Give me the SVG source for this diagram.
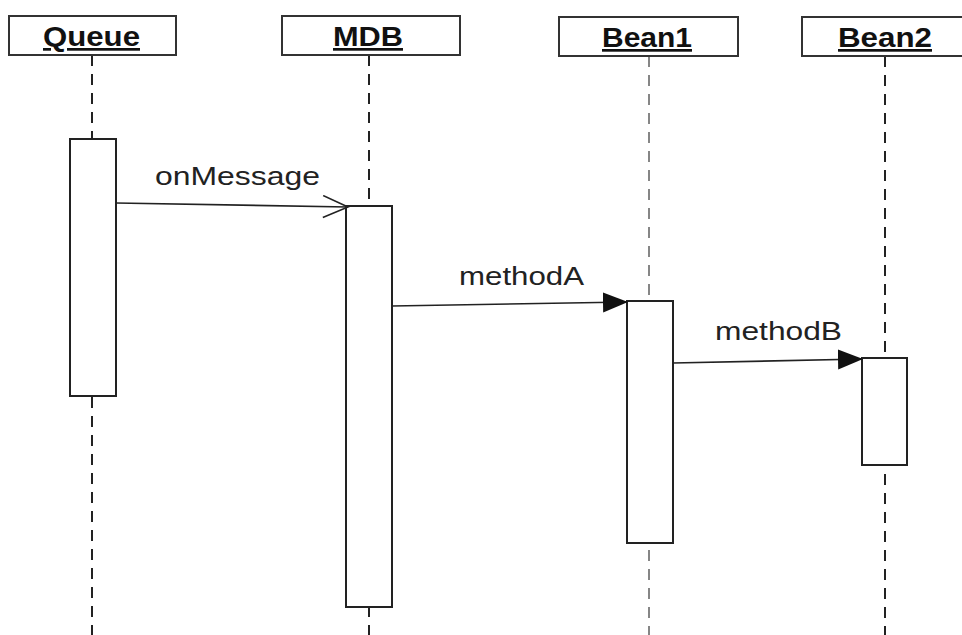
<svg xmlns="http://www.w3.org/2000/svg" width="962" height="635" viewBox="0 0 962 635">
<defs>
<style>
.hdr{fill:#fff;stroke:#333;stroke-width:2}
.hl{font-family:"Liberation Sans",Arial,sans-serif;font-weight:bold;font-size:27px;fill:#111;text-decoration:underline;text-anchor:middle}
.life{stroke:#222;stroke-width:2;stroke-dasharray:11 8;fill:none}
.bar{fill:#fff;stroke:#222;stroke-width:2}
.msg{stroke:#222;stroke-width:1.6;fill:none}
.ml{font-family:"Liberation Sans",Arial,sans-serif;font-size:25px;fill:#222}
</style>
<marker id="open" viewBox="0 0 28 24" refX="26" refY="12" markerWidth="28" markerHeight="24" markerUnits="userSpaceOnUse" orient="auto">
<path d="M1,1 L26,12 L1,23" fill="none" stroke="#222" stroke-width="1.6"/>
</marker>
<marker id="fill" viewBox="0 0 26 22" refX="25" refY="11" markerWidth="26" markerHeight="22" markerUnits="userSpaceOnUse" orient="auto">
<path d="M0,1 L25,11 L0,21 Z" fill="#111"/>
</marker>
</defs>
<rect width="962" height="635" fill="#fff"/>
<g id="queue">
<line class="life" x1="92" y1="55" x2="92" y2="635"/>
<rect class="hdr" x="9" y="16" width="167" height="39"/>
<text class="hl" x="91.5" y="46" textLength="97" lengthAdjust="spacingAndGlyphs">Queue</text>
<rect class="bar" x="70" y="139" width="46" height="257"/>
</g>
<g id="mdb">
<line class="life" x1="369" y1="55" x2="369" y2="635"/>
<rect class="hdr" x="282" y="16" width="178" height="39"/>
<text class="hl" x="368" y="46" textLength="70" lengthAdjust="spacingAndGlyphs">MDB</text>
<rect class="bar" x="346" y="206" width="46" height="401"/>
</g>
<g id="bean1">
<line class="life" x1="649" y1="56" x2="649" y2="635" stroke-opacity="0.55"/>
<rect class="hdr" x="559" y="17" width="179" height="39"/>
<text class="hl" x="647" y="47" textLength="90" lengthAdjust="spacingAndGlyphs">Bean1</text>
<rect class="bar" x="627" y="301" width="46" height="242"/>
</g>
<g id="bean2">
<line class="life" x1="885" y1="56" x2="885" y2="635"/>
<rect class="hdr" x="802" y="17" width="170" height="39"/>
<text class="hl" x="885" y="47" textLength="94" lengthAdjust="spacingAndGlyphs">Bean2</text>
<rect class="bar" x="862" y="358" width="45" height="107"/>
</g>
<g id="connectors">
<line class="msg" x1="116" y1="203" x2="348" y2="207" marker-end="url(#open)"/>
<text class="ml" x="155" y="185" textLength="165" lengthAdjust="spacingAndGlyphs">onMessage</text>
<line class="msg" x1="392" y1="306" x2="628" y2="302" marker-end="url(#fill)"/>
<text class="ml" x="459" y="285" textLength="125" lengthAdjust="spacingAndGlyphs">methodA</text>
<line class="msg" x1="673" y1="363" x2="863" y2="359" marker-end="url(#fill)"/>
<text class="ml" x="715" y="340" textLength="127" lengthAdjust="spacingAndGlyphs">methodB</text>
</g>
</svg>
